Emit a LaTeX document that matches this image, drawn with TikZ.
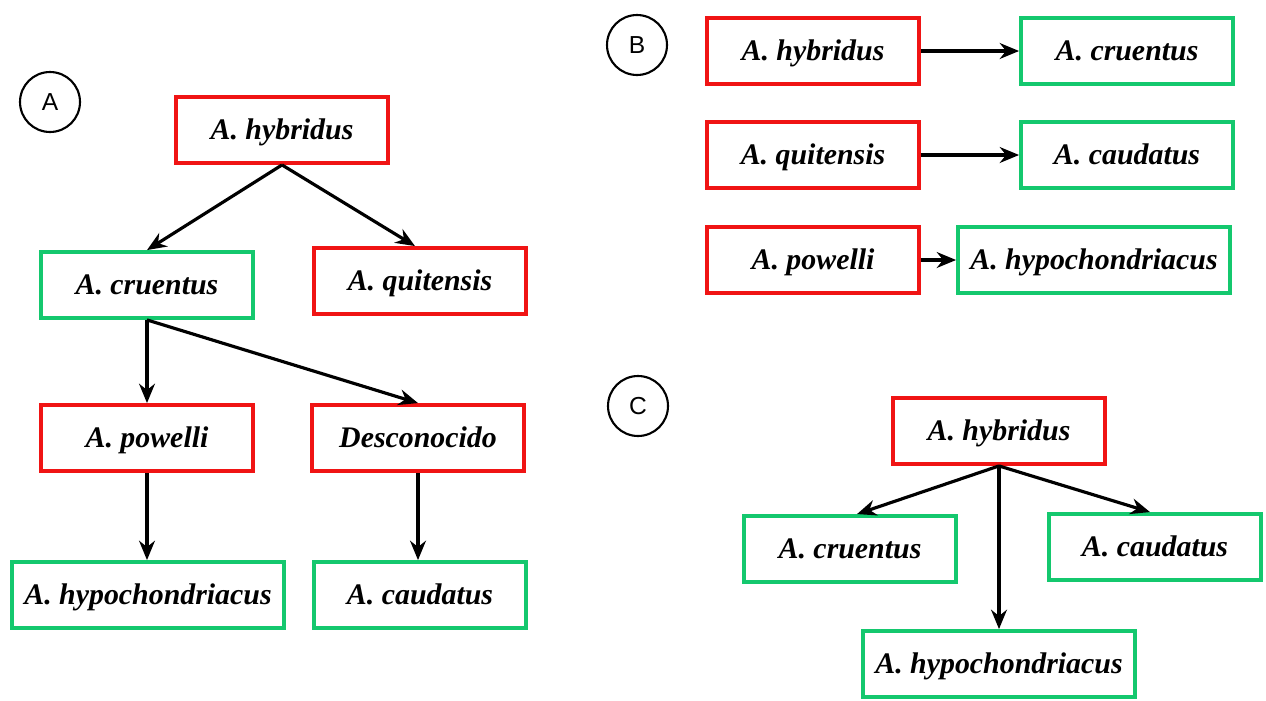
\documentclass[tikz,border=0pt]{standalone}
\usepackage{fontspec}
\setmainfont{Liberation Serif}
\setsansfont{Liberation Sans}
\usetikzlibrary{arrows.meta}
\definecolor{boxred}{RGB}{240,20,20}
\definecolor{boxgreen}{RGB}{20,200,110}
\tikzset{
  sp/.style={draw, line width=2.2pt, minimum width=4.24cm, minimum height=1.32cm,
    inner sep=0pt, text height=12pt, text depth=1pt,
    font=\fontsize{17}{19}\selectfont\bfseries\itshape},
  parent/.style={sp, draw=boxred},
  child/.style={sp, draw=boxgreen},
  wide/.style={minimum width=5.44cm},
  tag/.style={circle, draw, line width=1.2pt, minimum size=1.2cm, inner sep=0pt,
    font=\sffamily\fontsize{14}{16}\selectfont},
  link/.style={->, line width=1.8pt}
}
\begin{document}
\begin{tikzpicture}[x=0.02cm, y=-0.02cm, >={Stealth[length=11pt,width=9pt]}]
        \useasboundingbox (0,0) rectangle (1266,700);
        % A
        \node[tag] (tagA) at (50,102) {A};
        \node[parent] (ahyb) at (282,130) {A. hybridus};
        \node[child] (acru) at (147,285) {A. cruentus};
        \node[parent] (aqui) at (420,281) {A. quitensis};
        \node[parent] (apow) at (147,438) {A. powelli};
        \node[parent] (ades) at (418,438) {Desconocido};
        \node[child, wide] (ahyp) at (148,595) {A. hypochondriacus};
        \node[child] (acau) at (420,595) {A. caudatus};
        \draw[link] (ahyb.south) -- (acru.north);
        \draw[link] (ahyb.south) -- (aqui.north-|415,0);
        \draw[link] (acru.south) -- (apow.north);
        \draw[link] (acru.south) -- (ades.north);
        \draw[link] (apow.south) -- (apow.south|-ahyp.north);
        \draw[link] (ades.south) -- (ades.south|-acau.north);
        % B
        \node[tag] (tagB) at (637,45) {B};
        \node[parent] (bhyb) at (813,51) {A. hybridus};
        \node[child] (bcru) at (1127,51) {A. cruentus};
        \node[parent] (bqui) at (813,155) {A. quitensis};
        \node[child] (bcau) at (1127,155) {A. caudatus};
        \node[parent] (bpow) at (813,260) {A. powelli};
        \node[child, wide] (bhyp) at (1094,260) {A. hypochondriacus};
        \draw[link] (bhyb) -- (bcru);
        \draw[link] (bqui) -- (bcau);
        \draw[link] (bpow) -- (bhyp);
        % C
        \node[tag] (tagC) at (638,406) {C};
        \node[parent] (chyb) at (999,431) {A. hybridus};
        \node[child] (ccru) at (850,549) {A. cruentus};
        \node[child] (ccau) at (1155,547) {A. caudatus};
        \node[child, wide] (chyp) at (999,664) {A. hypochondriacus};
        \draw[link] (chyb.south) -- (ccru.north-|857,0);
        \draw[link] (chyb.south) -- (ccau.north-|1150,0);
        \draw[link] (chyb.south) -- (chyp.north);
\end{tikzpicture}
\end{document}
